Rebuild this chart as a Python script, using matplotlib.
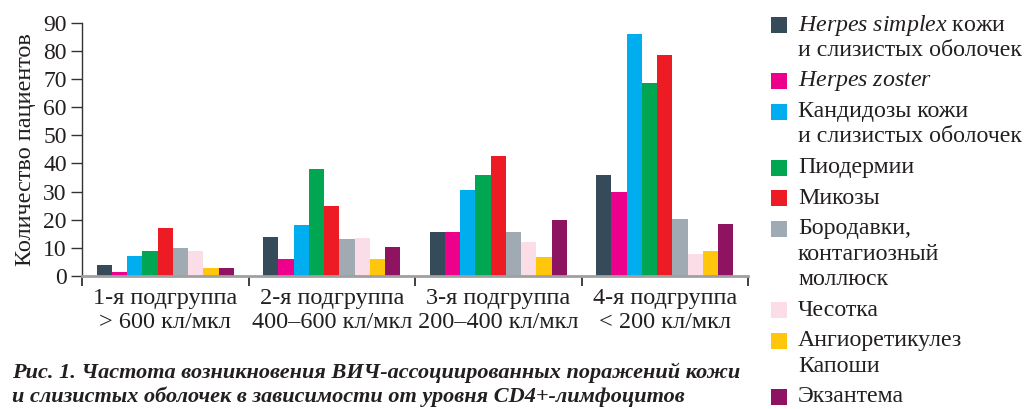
import numpy as np
import matplotlib
matplotlib.use('Agg')
import matplotlib.pyplot as plt
from matplotlib.patches import Rectangle

plt.rcParams['font.family'] = ['Liberation Serif', 'DejaVu Serif']
plt.rcParams['mathtext.fontset'] = 'custom'
plt.rcParams['mathtext.rm'] = 'Liberation Serif'
plt.rcParams['mathtext.it'] = 'Liberation Serif:italic'

# data
groups = ['1-я подгруппа\n> 600 кл/мкл', '2-я подгруппа\n400–600 кл/мкл',
          '3-я подгруппа\n200–400 кл/мкл', '4-я подгруппа\n< 200 кл/мкл']
herpes_simplex = [4, 14, 15.6, 36]
herpes_zoster = [1.5, 6, 15.6, 30]
candida = [7, 18, 30.6, 86]
pyoderma = [9, 38, 36, 68.6]
mycoses = [17, 25, 42.7, 78.5]
warts = [10, 13, 15.6, 20.3]
scabies = [9, 13.5, 12, 7.8]
kaposi = [3, 6, 6.8, 9]
exanthema = [3, 10.3, 20, 18.5]

series = [herpes_simplex, herpes_zoster, candida, pyoderma, mycoses,
          warts, scabies, kaposi, exanthema]
legend_labels = [
    [r'$\mathit{Herpes\ simplex}$ кожи', 'и слизистых оболочек'],
    [r'$\mathit{Herpes\ zoster}$'],
    ['Кандидозы кожи', 'и слизистых оболочек'],
    ['Пиодермии'],
    ['Микозы'],
    ['Бородавки,', 'контагиозный', 'моллюск'],
    ['Чесотка'],
    ['Ангиоретикулез', 'Капоши'],
    ['Экзантема'],
]
colors = ['#364b59', '#ec008c', '#00aeef', '#00a651', '#ed1c24',
          '#a0aab2', '#fbdde8', '#ffc60b', '#8e1461']

W, H = 1027, 409
fig = plt.figure(figsize=(W / 100, H / 100), dpi=100)
ax = fig.add_axes([82 / W, 1 - 276 / H, (748 - 82) / W, (276 - 22.7) / H])

x = np.arange(len(groups))
bw = 0.0915
for i, vals in enumerate(series):
    ax.bar(x + (i - 4) * bw, vals, width=bw, color=colors[i], linewidth=0, zorder=2)

ax.set_xlim(-0.5, 3.5)
ax.set_ylim(0, 90)
ax.set_yticks(range(0, 91, 10))
ax.tick_params(axis='y', direction='out', length=8, width=1, color='#333333',
               labelsize=17, pad=3, labelcolor='#231f20')
ax.set_xticks(np.arange(-0.5, 3.6, 1))
ax.set_xticklabels([])
ax.set_xticks(x, minor=True)
ax.set_xticklabels(groups, minor=True, fontsize=17.5, linespacing=1.2, color='#231f20')
ax.tick_params(axis='x', which='major', direction='out', length=7, width=1.2, color='#231f20')
ax.tick_params(axis='x', which='minor', length=0, pad=8.5)

ax.spines['top'].set_visible(False)
ax.spines['right'].set_visible(False)
ax.spines['left'].set_color('#333333')
ax.spines['left'].set_linewidth(1)
ax.spines['bottom'].set_color('#a0a0a0')
ax.spines['bottom'].set_linewidth(2)
ax.spines['bottom'].set_zorder(3)
ax.set_ylabel('Количество пациентов', fontsize=17.5, color='#231f20', labelpad=5)

# legend drawn by hand
y = 25
for lines, c in zip(legend_labels, colors):
    fig.add_artist(Rectangle((771 / W, 1 - (y + 8) / H), 16 / W, 16 / H,
                             transform=fig.transFigure, color=c, linewidth=0))
    for j, line in enumerate(lines):
        fig.text(798 / W, 1 - (y + j * 25.5) / H, line, fontsize=17.2,
                 va='center', ha='left', color='#231f20')
    y += (len(lines) - 1) * 25.5 + 30.5

# caption
cap = ['Рис. 1. Частота возникновения ВИЧ-ассоциированных поражений кожи',
       'и слизистых оболочек в зависимости от уровня CD4+-лимфоцитов']
for j, line in enumerate(cap):
    fig.text(12 / W, 1 - (373 + j * 24) / H, line, fontsize=16,
             fontweight='bold', fontstyle='italic', va='center', ha='left',
             color='#231f20')

fig.savefig('out.png', dpi=100)
